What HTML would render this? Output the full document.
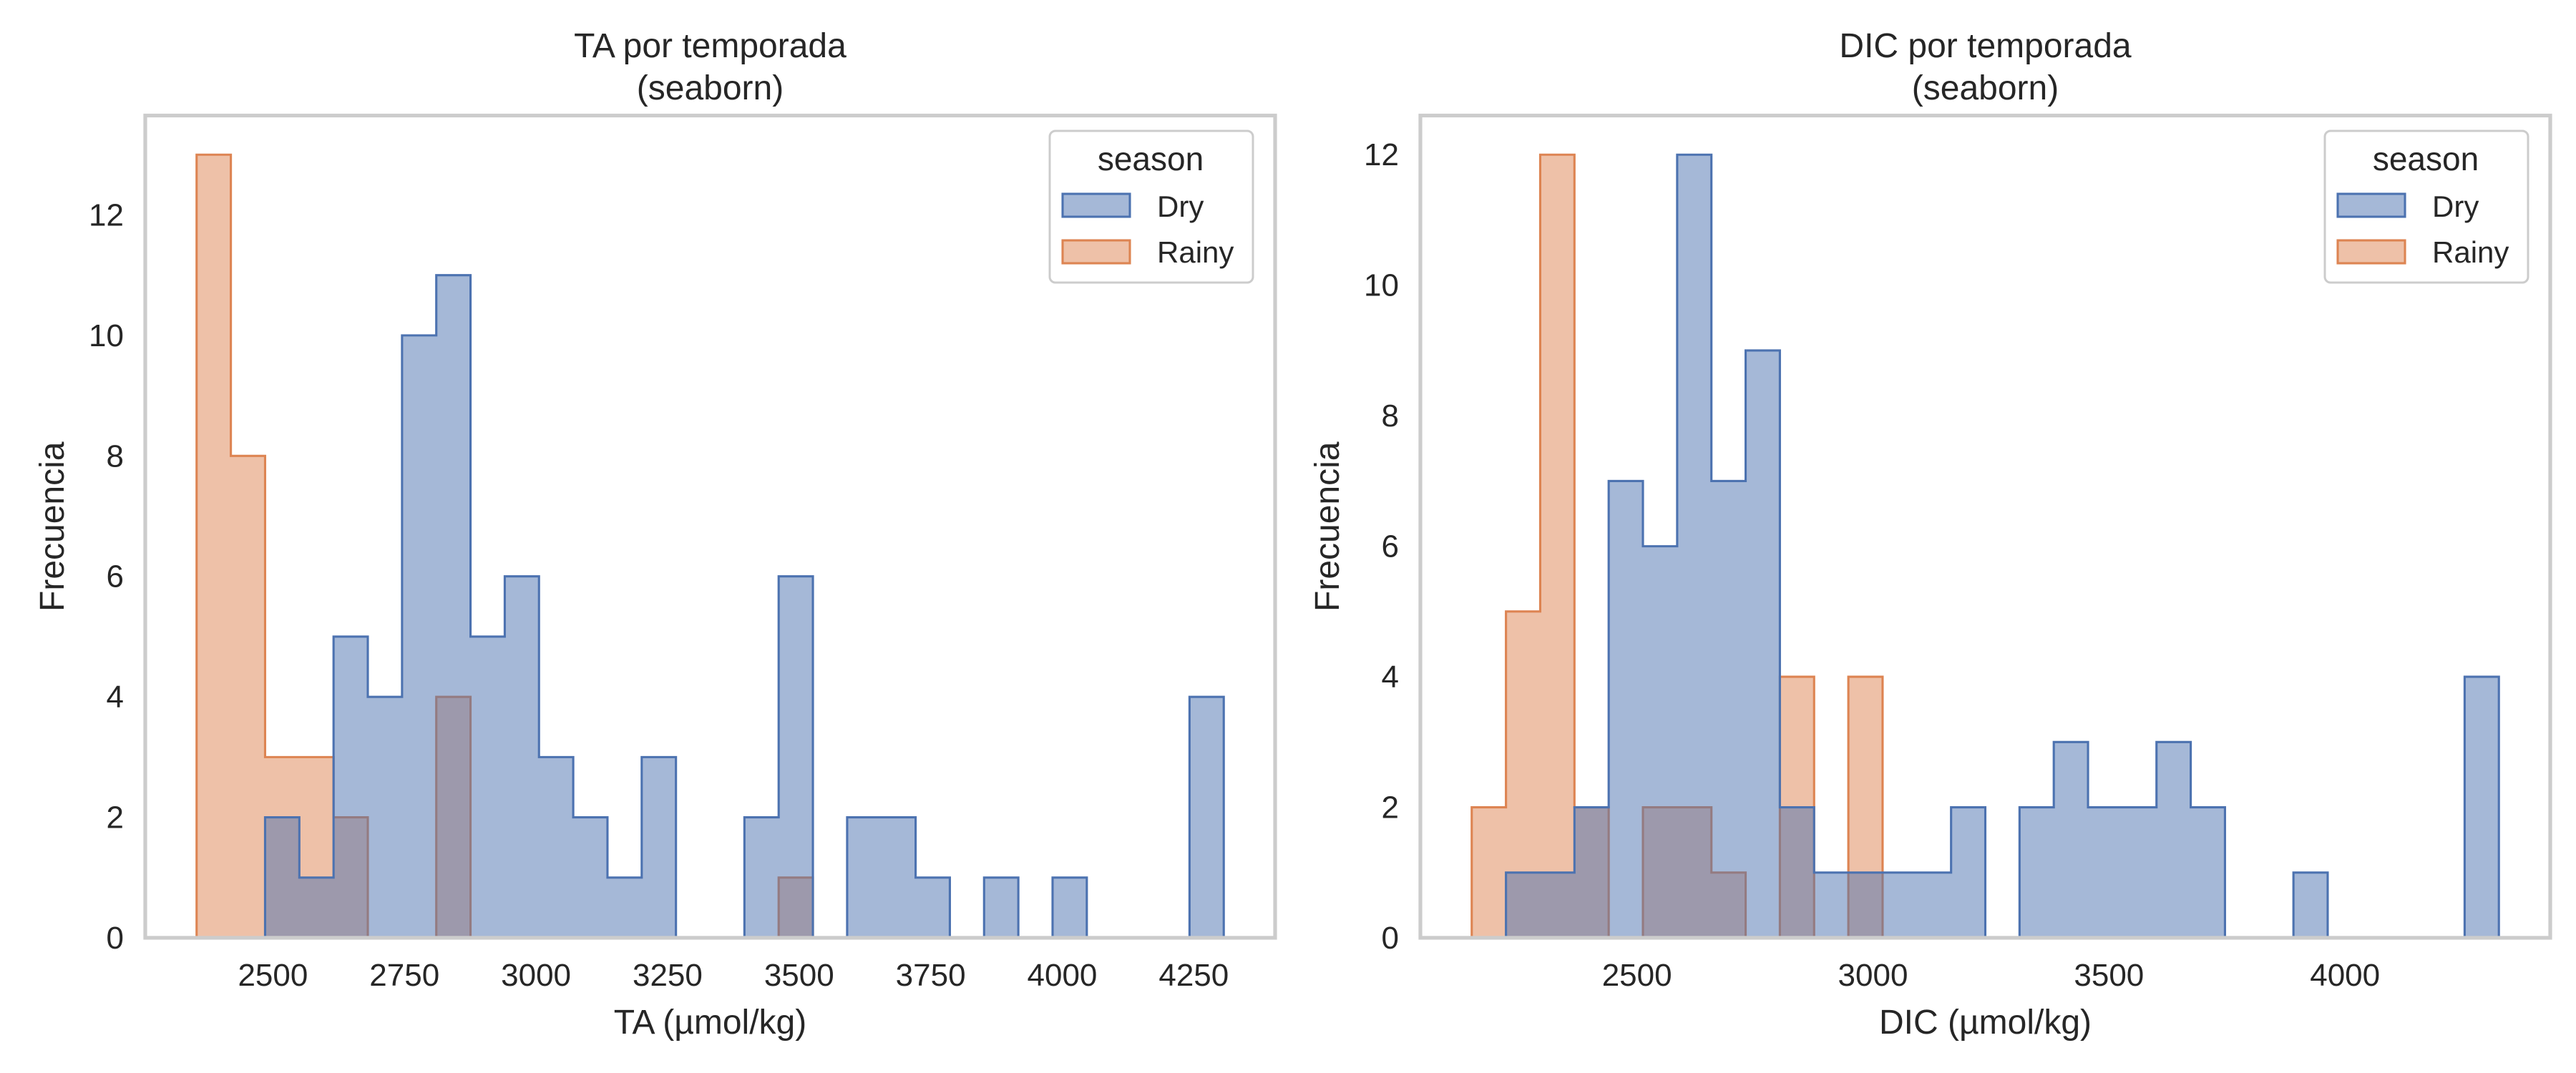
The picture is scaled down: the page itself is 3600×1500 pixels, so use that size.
<!DOCTYPE html>
<html><head><meta charset="utf-8"><style>
html,body{margin:0;padding:0;background:#fff;}
svg{display:block;font-family:"Liberation Sans",Arial,sans-serif;}
</style></head><body>
<svg id="chart" width="3600" height="1500" viewBox="0 0 3600 1500" xmlns="http://www.w3.org/2000/svg"></svg>
<script>
// ---- data ----
const taBinStart = 2355;
const taBinEnd = 4307;
const taDry   = [0,0,2,1,5,4,10,11,5,6,3,2,1,3,0,0,2,6,0,2,2,1,0,1,0,1,0,0,0,4];
const taRainy = [13,8,3,3,2,0,0,4,0,0,0,0,0,0,0,0,0,1,0,0,0,0,0,0,0,0,0,0,0,0];
const taXTicks = [2500,2750,3000,3250,3500,3750,4000,4250];
const taYTicks = [0,2,4,6,8,10,12];

const dicBinStart = 2150;
const dicBinEnd = 4326;
const dicDry   = [0,1,1,2,7,6,12,7,9,2,1,1,1,1,2,0,2,3,2,2,3,2,0,0,1,0,0,0,0,4];
const dicRainy = [2,5,12,2,0,2,2,1,0,4,0,4,0,0,0,0,0,0,0,0,0,0,0,0,0,0,0,0,0,0];
const dicXTicks = [2500,3000,3500,4000];
const dicYTicks = [0,2,4,6,8,10,12];

const NS = "http://www.w3.org/2000/svg";
const svg = document.getElementById('chart');
function mk(tag, attrs, parent){
  const e = document.createElementNS(NS, tag);
  for (const k in attrs) e.setAttribute(k, attrs[k]);
  (parent||svg).appendChild(e);
  return e;
}

function panel(cfg){
  const L = cfg.left, R = cfg.left + 1579, T = 161.5, B = 1311;
  const W = R - L;
  const dataW = W / 1.1;
  const x0 = L + W * 0.05 / 1.1;
  const ymax = Math.max(...cfg.dry, ...cfg.rainy) * 1.05;
  const xs = v => x0 + (v - cfg.binStart) / (cfg.binEnd - cfg.binStart) * dataW;
  const ys = v => B - v / ymax * (B - T);
  const nb = cfg.dry.length;
  const bw = (cfg.binEnd - cfg.binStart) / nb;
  const g = mk('g', {});
  
  

  function stepPath(vals){
    let d = 'M' + xs(cfg.binStart) + ',' + ys(0);
    for (let i = 0; i < vals.length; i++){
      const a = xs(cfg.binStart + i * bw), b = xs(cfg.binStart + (i + 1) * bw);
      d += ' L' + a + ',' + ys(vals[i]) + ' L' + b + ',' + ys(vals[i]);
    }
    d += ' L' + xs(cfg.binEnd) + ',' + ys(0) + ' Z';
    return d;
  }
  const pr = mk('path', {d: stepPath(cfg.rainy), fill: '#dd8452', 'fill-opacity': 0.5, stroke: '#dd8452', 'stroke-width': 3.1, 'stroke-linejoin': 'miter'}, g);
  
  
  const pd = mk('path', {d: stepPath(cfg.dry), fill: '#4c72b0', 'fill-opacity': 0.5, stroke: '#4c72b0', 'stroke-width': 3.1, 'stroke-linejoin': 'miter'}, g);
  
  

  const frame = mk('rect', {x: L, y: T, width: W, height: B - T, fill: 'none', stroke: '#cccccc', 'stroke-width': 5.2}, g);
  
  

  cfg.xticks.forEach(v => {
    const t = mk('text', {x: xs(v), y: 1378, 'font-size': 44, fill: '#262626', 'text-anchor': 'middle'}, g);
    t.textContent = v;
    
    
  });
  cfg.yticks.forEach(v => {
    const t = mk('text', {x: L - 30, y: ys(v) + 15, 'font-size': 44, fill: '#262626', 'text-anchor': 'end'}, g);
    t.textContent = v;
    
    
  });
  const xl = mk('text', {x: (L + R) / 2, y: 1445, 'font-size': 48, fill: '#262626', 'text-anchor': 'middle'}, g);
  xl.textContent = cfg.xlabel;
  
  
  const yl = mk('text', {x: 0, y: 0, 'font-size': 48, fill: '#262626', 'text-anchor': 'middle', transform: 'translate(' + (L - 114) + ',' + ((T + B) / 2) + ') rotate(-90)'}, g);
  yl.textContent = 'Frecuencia';
  
  
  const t1 = mk('text', {x: (L + R) / 2, y: 80, 'font-size': 48, fill: '#262626', 'text-anchor': 'middle'}, g);
  t1.textContent = cfg.title;
  
  
  const t2 = mk('text', {x: (L + R) / 2, y: 139, 'font-size': 48, fill: '#262626', 'text-anchor': 'middle'}, g);
  t2.textContent = '(seaborn)';
  
  

  // legend
  const off = L - 203;
  const lg = mk('g', {}, g);
  
  
  mk('rect', {x: 1467 + off, y: 183, width: 284, height: 212, rx: 8, fill: '#fff', 'fill-opacity': 0.8, stroke: '#cccccc', 'stroke-width': 3}, lg);
  const lt = mk('text', {x: 1608 + off, y: 238, 'font-size': 46, fill: '#262626', 'text-anchor': 'middle'}, lg);
  lt.textContent = 'season';
  
  
  [['Dry', '#4c72b0', 271, 303], ['Rainy', '#dd8452', 336, 367]].forEach(([lab, c, py, ty]) => {
    const sw = mk('rect', {x: 1485 + off, y: py, width: 94, height: 32, fill: c, 'fill-opacity': 0.5, stroke: c, 'stroke-width': 3.1}, lg);
    
    
    const tx = mk('text', {x: 1617 + off, y: ty, 'font-size': 42, fill: '#262626'}, lg);
    tx.textContent = lab;
    
    
  });
}

panel({name: 'ta', left: 203, binStart: taBinStart, binEnd: taBinEnd, dry: taDry, rainy: taRainy,
       xticks: taXTicks, yticks: taYTicks, xlabel: 'TA (µmol/kg)', title: 'TA por temporada'});
panel({name: 'dic', left: 1985, binStart: dicBinStart, binEnd: dicBinEnd, dry: dicDry, rainy: dicRainy,
       xticks: dicXTicks, yticks: dicYTicks, xlabel: 'DIC (µmol/kg)', title: 'DIC por temporada'});
</script>
</body></html>
